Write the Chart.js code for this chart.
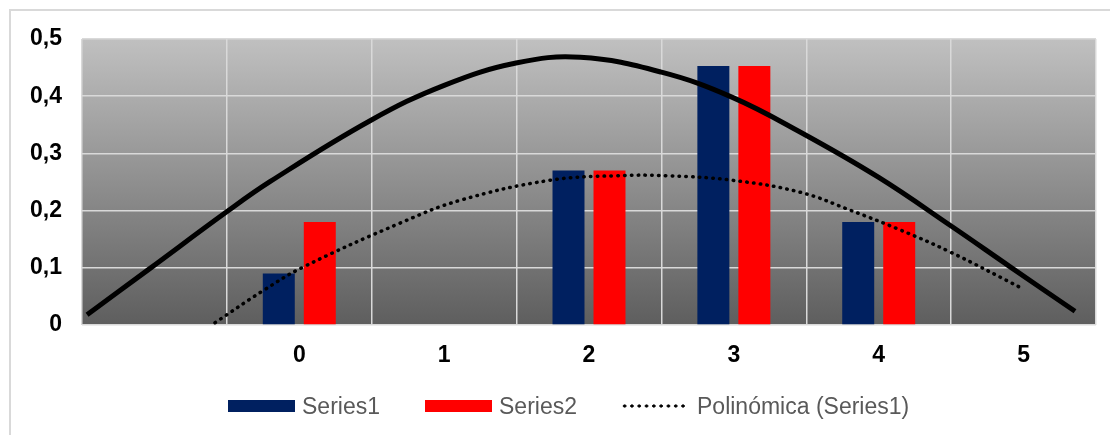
<!DOCTYPE html>
<html>
<head>
<meta charset="utf-8">
<script src="https://cdn.jsdelivr.net/npm/chart.js@4.4.1/dist/chart.umd.min.js"></script>
<style>
  html, body { margin: 0; padding: 0; background: #fff; overflow: hidden; }
  #wrap { position: relative; width: 1110px; height: 435px; }
  #frame { position: absolute; left: 9px; top: 9px; width: 1200px; height: 500px;
           border-left: 2px solid #d9d9d9; border-top: 2px solid #d9d9d9; }
  canvas { position: absolute; left: 0; top: 0; }
  .lg { position: absolute; font-family: "Liberation Sans", Arial, sans-serif; font-size: 23px;
        color: #595959; line-height: 26px; top: 393px; }
  .box { position: absolute; top: 400px; width: 67px; height: 12px; }
  .dots { position: absolute; top: 403px; left: 621px; width: 67px; height: 6px;
          background: radial-gradient(circle, #000 1.4px, rgba(0,0,0,0) 1.8px) repeat-x;
          background-size: 7.3px 6px; }
</style>
</head>
<body>
<div id="wrap">
  <div id="frame"></div>
  <canvas id="barChart" width="1110" height="435"></canvas>
  <canvas id="curveChart" width="1110" height="435"></canvas>
  <div class="box" style="left:228px;background:#002060"></div>
  <div class="lg" style="left:302px">Series1</div>
  <div class="box" style="left:425px;background:#ff0000"></div>
  <div class="lg" style="left:499px">Series2</div>
  <div class="dots"></div>
  <div class="lg" style="left:697px">Polinómica (Series1)</div>
</div>
<script>
	// categories and bar values
	var labels = ["", "0", "1", "2", "3", "4", "5"];
	var series1 = [0, 0.09, 0, 0.27, 0.453, 0.18, 0];
	var series2 = [0, 0.18, 0, 0.27, 0.453, 0.18, 0];

	// solid curve (position along the 7 categories, value)
	var solidX = [0.035, 0.47, 0.994, 1.30, 1.995, 2.5, 2.996, 3.44, 4.0, 4.49, 4.96, 5.5, 6.0, 6.4, 6.855];
	var solidY = [0.018, 0.099, 0.197, 0.251, 0.358, 0.419, 0.458, 0.468, 0.442, 0.398, 0.337, 0.258, 0.173, 0.103, 0.024];

	// dotted trend line "Polinómica (Series1)"
	var trendX = [0.918, 1.25, 1.525, 2.195, 2.61, 3.23, 3.69, 4.04, 4.49, 4.96, 5.3, 5.65, 5.99, 6.49];
	var trendY = [0.004, 0.060, 0.101, 0.178, 0.218, 0.253, 0.261, 0.261, 0.253, 0.232, 0.201, 0.166, 0.128, 0.064];

	var yTicks = [0, 0.1, 0.2, 0.3, 0.4, 0.5];

	// both charts use the same plot box
	var pad = { left: 82, right: 14, top: 39, bottom: 110 };

	function toPoints(xs, ys){
		var pts = [];
		for(var i=0; i<xs.length; i++){
			pts.push({x: xs[i], y: ys[i]});
		}
		return pts;
	};

	var plotBg = {
		id: "plotBg",
		beforeDraw: function(chart){
			var a = chart.chartArea;
			var ctx = chart.ctx;
			var g = ctx.createLinearGradient(0, a.top, 0, a.bottom);
			g.addColorStop(0, "#c0c0c0");
			g.addColorStop(1, "#5e5e5e");
			ctx.save();
			ctx.fillStyle = g;
			ctx.fillRect(a.left, a.top, a.right - a.left, a.bottom - a.top);
			ctx.restore();
		}
	};

	var tickFont = { family: "'Liberation Sans', Arial, sans-serif", size: 23, weight: "bold" };

	var barChart = new Chart(document.getElementById("barChart"), {
		type: "bar",
		data: {
			labels: labels,
			datasets: [{
				label: "Series1",
				data: series1,
				backgroundColor: "#002060"
			}, {
				label: "Series2",
				data: series2,
				backgroundColor: "#ff0000"
			}]
		},
		options: {
			responsive: false,
			animation: false,
			categoryPercentage: 0.566,
			barPercentage: 0.78,
			layout: { padding: { left: 0, right: pad.right, top: pad.top, bottom: pad.bottom - 50 } },
			plugins: { legend: { display: false }, tooltip: { enabled: false } },
			scales: {
				x: {
					grid: { color: "#d9d9d9", lineWidth: 1.5, drawTicks: false, offset: true },
					border: { display: false },
					ticks: { color: "#000", font: tickFont, padding: 17 },
					afterFit: function(s){ s.height = 50; }
				},
				y: {
					min: 0,
					max: 0.5,
					afterBuildTicks: function(s){
						s.ticks = yTicks.map(function(v){ return {value: v}; });
					},
					grid: { color: "#d9d9d9", lineWidth: 1.5, drawTicks: false },
					border: { display: false },
					ticks: {
						color: "#000",
						font: tickFont,
						padding: 20,
						callback: function(v){ return v === 0 ? "0" : v.toFixed(1).replace(".", ","); }
					},
					afterFit: function(s){ s.width = pad.left; }
				}
			}
		},
		plugins: [plotBg]
	});

	var curveChart = new Chart(document.getElementById("curveChart"), {
		type: "line",
		data: {
			datasets: [{
				label: "curve",
				data: toPoints(solidX, solidY),
				borderColor: "#000",
				borderWidth: 5,
				pointRadius: 0,
				tension: 0.4
			}, {
				label: "Polinómica (Series1)",
				data: toPoints(trendX, trendY),
				borderColor: "#000",
				borderWidth: 3.5,
				borderDash: [0.5, 6.3],
				borderCapStyle: "round",
				pointRadius: 0,
				tension: 0.4
			}]
		},
		options: {
			responsive: false,
			animation: false,
			layout: { padding: pad },
			plugins: { legend: { display: false }, tooltip: { enabled: false } },
			scales: {
				x: { type: "linear", display: false, min: 0, max: 7, offset: false },
				y: { display: false, min: 0, max: 0.5 }
			}
		}
	});
</script>
</body>
</html>
